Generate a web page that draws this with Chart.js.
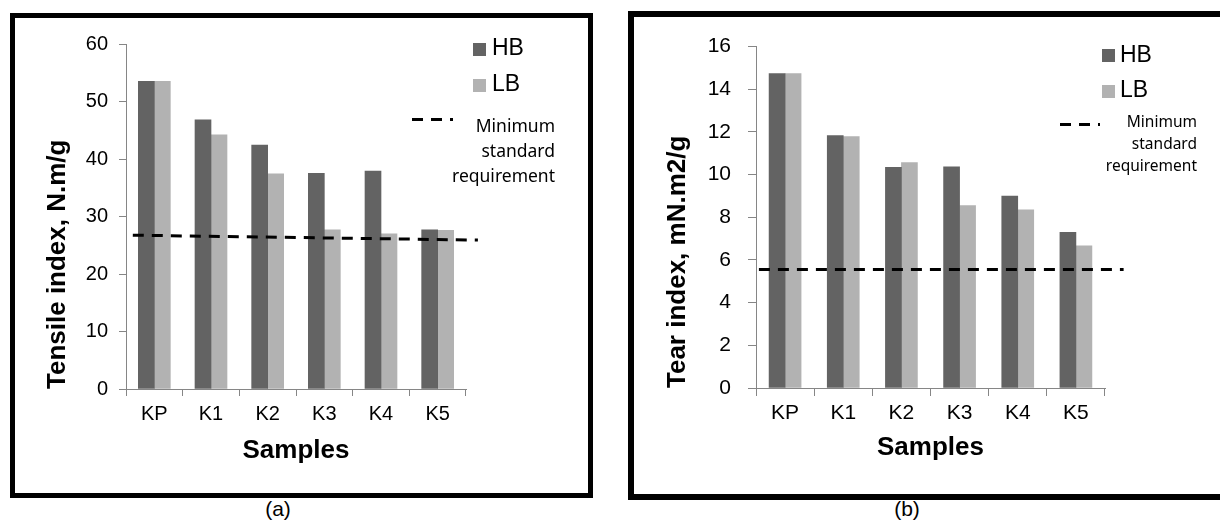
<!DOCTYPE html>
<html>
<head>
<meta charset="utf-8">
<title>Tensile index and tear index of samples</title>
<script src="https://cdn.jsdelivr.net/npm/chart.js@4.4.1/dist/chart.umd.min.js"></script>
<style>
  html, body { margin: 0; padding: 0; background: #fff; }
  body { width: 1220px; height: 523px; position: relative; overflow: hidden;
         font-family: "Liberation Sans", Arial, sans-serif; color: #000; }
  .panel { position: absolute; box-sizing: border-box; border: 5px solid #000; }
  #panelA { left: 10px; top: 13px; width: 583px; height: 485px; }
  #panelB { left: 628px; top: 11px; width: 610px; height: 489px; border-width: 6px; }
  .panel canvas { position: absolute; left: 0; top: 0; }
  .swatch { position: absolute; width: 13px; height: 13px; }
  .hb { background: #636363; }
  .lb { background: #b2b2b2; }
  .key { position: absolute; font-size: 23px; line-height: 23px; }
  .dash { position: absolute; height: 3px;
          background: repeating-linear-gradient(to right, #000 0 11px, transparent 11px 19px); }
  .note { position: absolute; text-align: right; font-family: "Noto Sans", sans-serif; }
  .cap { position: absolute; width: 100px; text-align: center; font-size: 21px; line-height: 21px; }
</style>
</head>
<body>

<div class="panel" id="panelA"><canvas id="tensileChart" width="573" height="475"></canvas></div>
<div class="panel" id="panelB"><canvas id="tearChart" width="586" height="477"></canvas></div>

<!-- legend (a) -->
<div class="swatch hb" style="left:473px; top:43px;"></div>
<div class="key" style="left:492px; top:36px;">HB</div>
<div class="swatch lb" style="left:473px; top:79px;"></div>
<div class="key" style="left:492px; top:72px;">LB</div>
<div class="dash" style="left:412px; top:118px; width:41px;"></div>
<div class="note" style="left:435px; width:120px; top:113px; font-size:17.5px; line-height:25px;">Minimum<br>standard<br>requirement</div>

<!-- legend (b) -->
<div class="swatch hb" style="left:1102px; top:49px;"></div>
<div class="key" style="left:1120px; top:43px;">HB</div>
<div class="swatch lb" style="left:1102px; top:85px;"></div>
<div class="key" style="left:1120px; top:78px;">LB</div>
<div class="dash" style="left:1060px; top:123px; width:40px;"></div>
<div class="note" style="left:1077px; width:120px; top:110px; font-size:15.5px; line-height:22px;">Minimum<br>standard<br>requirement</div>

<div class="cap" style="left:228px; top:498px;">(a)</div>
<div class="cap" style="left:857px; top:498px;">(b)</div>

<script>
// Samples on the x axis
const samples = ['KP', 'K1', 'K2', 'K3', 'K4', 'K5'];

// (a) Tensile index, N.m/g
const tensileHB = [53.5, 46.8, 42.4, 37.5, 37.9, 27.7];
const tensileLB = [53.5, 44.2, 37.4, 27.7, 27.0, 27.6];
// minimum standard requirement line (x in category units)
const tensileMinX = [-0.38, 5.71];
const tensileMinY = [26.75, 25.9];

// (b) Tear index, mN.m2/g
const tearHB = [14.73, 11.83, 10.34, 10.36, 9.0, 7.3];
const tearLB = [14.73, 11.78, 10.57, 8.55, 8.35, 6.66];
const tearMinX = [-0.45, 5.82];
const tearMinY = [5.55, 5.55];

const axisGrey = '#868686';
Chart.defaults.font.family = '"Liberation Sans", Arial, sans-serif';
Chart.defaults.color = '#000';

function buildChart(id, o) {
    return new Chart(document.getElementById(id), {
        type: 'bar',
        data: {
            labels: samples,
            datasets: [
                {
                    type: 'line',
                    label: 'Minimum standard requirement',
                    data: o.minX.map((x, i) => ({ x: x, y: o.minY[i] })),
                    xAxisID: 'xLine',
                    borderColor: '#000',
                    borderWidth: 3,
                    borderDash: [11, 8],
                    pointRadius: 0,
                    fill: false,
                    clip: false,
                    order: 0
                },
                { label: 'HB', data: o.hb, backgroundColor: '#636363', order: 1 },
                { label: 'LB', data: o.lb, backgroundColor: '#b2b2b2', order: 1 }
            ]
        },
        options: {
            responsive: false,
            animation: false,
            layout: { padding: { left: 0, top: o.padTop, right: o.padRight, bottom: 0 } },
            plugins: { legend: { display: false }, tooltip: { enabled: false } },
            // fixed thickness keeps the pair centred whatever the line's extra axis does
            datasets: { bar: { barThickness: 16 } },
            scales: {
                x: {
                    grid: { offset: true, drawOnChartArea: false, color: axisGrey, tickLength: o.tickLen },
                    border: { color: axisGrey },
                    ticks: { color: '#000', font: { size: o.fontSize }, padding: o.xPad },
                    title: {
                        display: true, text: 'Samples', color: '#000',
                        font: { size: 26, weight: 'bold' },
                        padding: { top: 0, bottom: o.xTitlePad }
                    },
                    afterFit: s => { s.height = o.xHeight; }
                },
                // same width as the category axis: -0.5 .. 5.5 covers the six slots
                xLine: { type: 'linear', display: false, offset: false, min: -0.5, max: 5.5 },
                y: {
                    min: 0,
                    max: o.yMax,
                    ticks: { stepSize: o.yStep, color: '#000', font: { size: o.fontSize }, padding: o.yPad },
                    grid: { drawOnChartArea: false, color: axisGrey, tickLength: o.tickLen },
                    border: { color: axisGrey },
                    title: {
                        display: true, text: o.yTitle, align: 'start', color: '#000',
                        font: { size: 26, weight: 'bold' },
                        padding: { top: o.yTitlePad, bottom: 0 }
                    },
                    afterFit: s => { s.width = o.yWidth; }
                }
            }
        }
    });
}

buildChart('tensileChart', {
    hb: tensileHB, lb: tensileLB, minX: tensileMinX, minY: tensileMinY,
    yMax: 60, yStep: 10, yTitle: 'Tensile index, N.m/g',
    padTop: 26, padRight: 122, yWidth: 111, xHeight: 104,
    tickLen: 7, fontSize: 20, xPad: 6, yPad: 11,
    xTitlePad: 27, yTitlePad: 27
});

buildChart('tearChart', {
    hb: tearHB, lb: tearLB, minX: tearMinX, minY: tearMinY,
    yMax: 16, yStep: 2, yTitle: 'Tear index, mN.m2/g',
    padTop: 26, padRight: 115, yWidth: 122, xHeight: 106,
    tickLen: 8, fontSize: 21, xPad: 5, yPad: 17,
    xTitlePad: 31, yTitlePad: 28
});
</script>
</body>
</html>
